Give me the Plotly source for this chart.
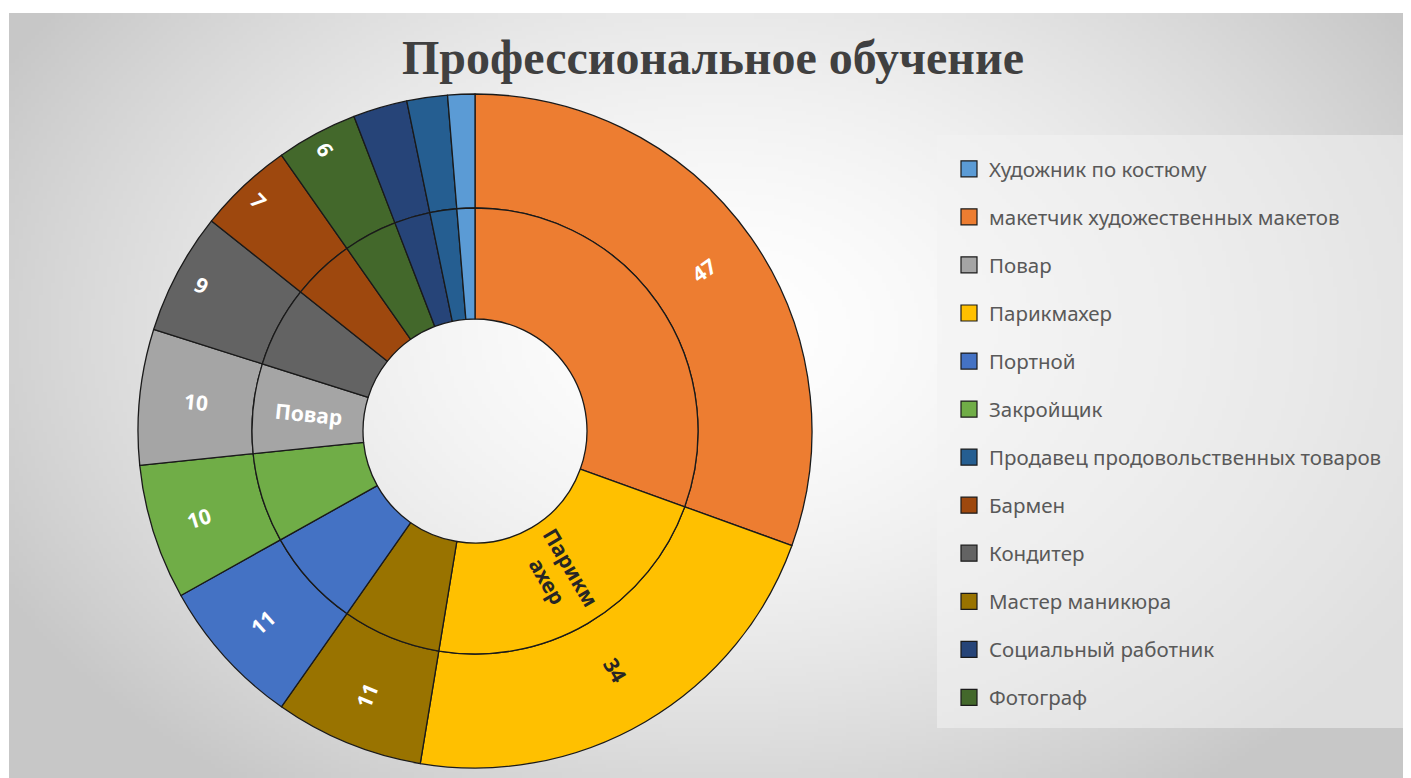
import base64
import math
import struct
import zlib

import numpy as np
import plotly.graph_objects as go

# ---------------- data ----------------
slice_labels = [
    "макетчик художественных макетов",
    "Парикмахер",
    "Мастер маникюра",
    "Портной",
    "Закройщик",
    "Повар",
    "Кондитер",
    "Бармен",
    "Фотограф",
    "Социальный работник",
    "Продавец продовольственных товаров",
    "Художник по костюму",
]
slice_values = [47, 34, 11, 11, 10, 10, 9, 7, 6, 4, 3, 2]
outer_text = ["47", "34", "11", "11", "10", "10", "9", "7", "6", "", "", ""]
inner_text = ["", "Парикм<br>ахер", "", "", "", "Повар", "", "", "", "", "", ""]

legend_labels = [
    "Художник по костюму",
    "макетчик художественных макетов",
    "Повар",
    "Парикмахер",
    "Портной",
    "Закройщик",
    "Продавец продовольственных товаров",
    "Бармен",
    "Кондитер",
    "Мастер маникюра",
    "Социальный работник",
    "Фотограф",
]

colors = {
    "Художник по костюму": "#5B9BD5",
    "макетчик художественных макетов": "#ED7D31",
    "Повар": "#A5A5A5",
    "Парикмахер": "#FFC000",
    "Портной": "#4472C4",
    "Закройщик": "#70AD47",
    "Продавец продовольственных товаров": "#255E91",
    "Бармен": "#9E480E",
    "Кондитер": "#636363",
    "Мастер маникюра": "#997300",
    "Социальный работник": "#264478",
    "Фотограф": "#43682B",
}
dark_text_labels = ["Парикмахер"]

# the page body has an 8px margin; the figure is sized/offset to compensate
OFF = 8
W, H = 1411 - OFF, 778 - OFF


def px(x):
    return (x - OFF) / W


def py(y):
    return 1 - (y - OFF) / H


# ---------------- background gradient (PNG built in memory) ----------------
def gray_png(arr):
    h, w = arr.shape
    raw = b"".join(b"\x00" + arr[i].tobytes() for i in range(h))

    def chunk(t, d):
        c = struct.pack(">I", len(d)) + t + d
        return c + struct.pack(">I", zlib.crc32(t + d) & 0xFFFFFFFF)

    return (b"\x89PNG\r\n\x1a\n"
            + chunk(b"IHDR", struct.pack(">IIBBBBB", w, h, 8, 0, 0, 0, 0))
            + chunk(b"IDAT", zlib.compress(raw, 9))
            + chunk(b"IEND", b""))


gw, gh = 351, 191
gx = np.linspace(9, 1411, gw)
gy = np.linspace(13, 778, gh)
XX, YY = np.meshgrid(gx, gy)
t = np.sqrt(((XX - 720) / 820) ** 2 + ((YY - 330) / 570) ** 2)
t = np.clip(t, 0, 1)
grad = (255 - 56 * t ** 1.6).astype(np.uint8)
bg_src = "data:image/png;base64," + base64.b64encode(gray_png(grad)).decode()

# ---------------- geometry (screen px of the reference) ----------------
cx, cy = 475, 431
r_out, r_mid, r_in = 337, 223, 112
LABEL_SIZE = 21

slice_colors = [colors[l] for l in slice_labels]
font_colors = ["#262626" if l in dark_text_labels else "#FFFFFF" for l in slice_labels]
label_font = dict(family="Noto Sans", size=LABEL_SIZE, weight="bold")


def dom(r):
    return dict(x=[px(cx - r), px(cx + r)], y=[py(cy + r), py(cy - r)])


# Plotly lays a "radial" label horizontally when its slice crosses 3 or 9 o'clock;
# those labels are drawn as rotated annotations at the slice's mid angle instead.
total = sum(slice_values)
starts, acc = [], 0
for v in slice_values:
    starts.append(acc / total * 360)
    acc += v
stops = [s + v / total * 360 for s, v in zip(starts, slice_values)]

annotations = []


def split_text(texts, r0, r1):
    pie_txt = []
    for i, txt in enumerate(texts):
        crosses = any(starts[i] < a < stops[i] for a in (90, 270))
        if txt and crosses:
            pie_txt.append("")
            mid = (starts[i] + stops[i]) / 2
            rr = (r0 + r1) / 2
            x = cx + rr * math.sin(math.radians(mid))
            y = cy - rr * math.cos(math.radians(mid))
            ang = mid - 90
            while ang > 90:
                ang -= 180
            while ang <= -90:
                ang += 180
            annotations.append(dict(
                text="<b>%s</b>" % txt, x=px(x), y=py(y), xref="paper", yref="paper",
                xanchor="center", yanchor="middle", showarrow=False, textangle=ang,
                font=dict(family="Noto Sans", size=LABEL_SIZE, color=font_colors[i])))
        else:
            pie_txt.append(txt)
    return pie_txt


outer_pie_text = split_text(outer_text, r_mid, r_out)
inner_pie_text = split_text(inner_text, r_in, r_mid)

fig = go.Figure()

fig.add_trace(go.Pie(
    labels=slice_labels, values=slice_values, text=outer_pie_text,
    textinfo="text", textposition="inside", insidetextorientation="radial",
    sort=False, direction="clockwise", rotation=0,
    hole=r_mid / r_out, domain=dom(r_out),
    marker=dict(colors=slice_colors, line=dict(color="#1a1a1a", width=1.3)),
    insidetextfont=dict(color=font_colors, **label_font),
    showlegend=False, hoverinfo="label+value",
))

fig.add_trace(go.Pie(
    labels=slice_labels, values=slice_values, text=inner_pie_text,
    textinfo="text", textposition="inside", insidetextorientation="radial",
    sort=False, direction="clockwise", rotation=0,
    hole=r_in / r_mid, domain=dom(r_mid),
    marker=dict(colors=slice_colors, line=dict(color="#1a1a1a", width=1.3)),
    insidetextfont=dict(color=font_colors, **label_font),
    showlegend=False, hoverinfo="label+value",
))

# legend entries (in the reference's legend order)
for lab in legend_labels:
    fig.add_trace(go.Scatter(
        x=[None], y=[None], mode="markers", name=lab, legendgroup=lab,
        marker=dict(symbol="square", size=16, color=colors[lab],
                    line=dict(color="#1a1a1a", width=1.2)),
        hoverinfo="skip",
    ))

fig.update_layout(
    width=W, height=H,
    margin=dict(l=0, r=0, t=0, b=0),
    paper_bgcolor="#FFFFFF",
    plot_bgcolor="rgba(0,0,0,0)",
    xaxis=dict(visible=False), yaxis=dict(visible=False),
    images=[dict(source=bg_src, xref="paper", yref="paper",
                 x=px(9), y=py(13), sizex=px(1411) - px(9), sizey=py(13) - py(778),
                 xanchor="left", yanchor="top", sizing="stretch", layer="below")],
    shapes=[dict(type="rect", xref="paper", yref="paper",
                 x0=px(937), x1=px(1403), y0=py(728), y1=py(135),
                 fillcolor="rgba(242,242,242,0.55)", line=dict(width=0), layer="below")],
    annotations=annotations,
    title=dict(text="<b>Профессиональное обучение</b>",
               x=px(713), y=py(57), xanchor="center", yanchor="middle",
               font=dict(family="Liberation Serif", size=48, color="#404040")),
    legend=dict(x=px(949), y=py(149), xanchor="left", yanchor="top",
                traceorder="grouped", tracegroupgap=18.4,
                bgcolor="rgba(0,0,0,0)", borderwidth=0,
                font=dict(family="Noto Sans", size=20.5, color="#595959"),
                itemsizing="trace"),
)

fig.write_html("out.html")
